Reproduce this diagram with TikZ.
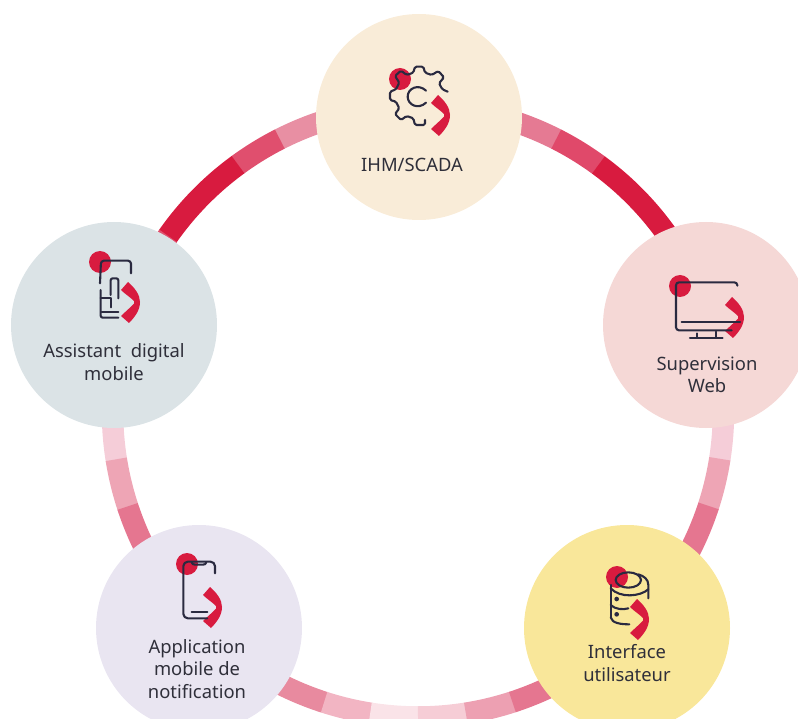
\documentclass[tikz,border=0pt]{standalone}
\usepackage{fontspec}
\setmainfont{Noto Sans}
\definecolor{redm}{HTML}{D81B3F}
\definecolor{inkc}{HTML}{2A2A40}
\definecolor{txtc}{HTML}{2F2F3A}
\definecolor{cTop}{HTML}{F9ECD8}
\definecolor{cRight}{HTML}{F5D8D6}
\definecolor{cYellow}{HTML}{F9E79A}
\definecolor{cLilac}{HTML}{E9E5F1}
\definecolor{cLeft}{HTML}{DBE3E6}
\tikzset{
  disc/.style={circle,minimum size=206pt,inner sep=0pt,draw=none},
  lab/.style={text=txtc,align=center,font=\fontsize{18.4}{22.5}\selectfont,inner sep=0pt},
  ink/.style={draw=inkc,line width=2.1pt,line cap=round,line join=round,fill=none},
  zoomed/.style={x=0.33333pt,y=-0.33333pt},
}
\newcommand{\ringseg}[3]{\definecolor{segc}{HTML}{#3}\draw[line width=21.5pt,draw=segc,line cap=butt,line join=round]
  plot[domain=#1:#2,samples=24,smooth] ({418+305.5*cos(\x)},{411.5-305.5*sin(\x)});}
\newcommand{\redmark}[4]{%
  \fill[redm] (#3,#4) circle (11pt);
  \begin{scope}[shift={(#1,#2)}]
    \fill[redm] (-18,-12) -- (-11,-20) .. controls (-4,-14) and (1,-7) .. (1,0)
      .. controls (1,8) and (-4,15) .. (-10,21) -- (-18,14)
      .. controls (-14,10) and (-9,6) .. (-5,1.5) -- (-5,-1)
      .. controls (-9,-5) and (-14,-8) .. cycle;
  \end{scope}}
\begin{document}
\begin{tikzpicture}[x=1pt,y=-1pt]
\useasboundingbox (0,0) rectangle (798,719);
\clip (0,0) rectangle (798,719);
% ring
\ringseg{63}{95}{E57A93}
\ringseg{53.7}{63.1}{E0496A}
\ringseg{30}{53.8}{D81B3F}
\ringseg{117}{85}{E88FA3}
\ringseg{126.2}{116.9}{E04F6E}
\ringseg{145}{126.1}{D81B3F}
\ringseg{150}{144.9}{E0506E}
\ringseg{-9}{15}{F5CDD8}
\ringseg{-18.1}{-8.9}{EEA5B5}
\ringseg{-35}{-18}{E57690}
\ringseg{165}{189.1}{F5CDD8}
\ringseg{189}{198.2}{EEA5B5}
\ringseg{198.1}{215}{E57690}
\ringseg{235}{252.2}{E88A9F}
\ringseg{252.1}{261.1}{F2B5C3}
\ringseg{261}{270.1}{FAE3E8}
\ringseg{270}{279.1}{F6CDD6}
\ringseg{279}{288.1}{EDA0B2}
\ringseg{288}{305}{E57690}
% discs
\node[disc,fill=cTop]    (top)    at (419,117) {};
\node[disc,fill=cRight]  (right)  at (706,325) {};
\node[disc,fill=cYellow] (yellow) at (627,628) {};
\node[disc,fill=cLilac]  (lilac)  at (199,628) {};
\node[disc,fill=cLeft]   (left)   at (114,325) {};
% red marks
\redmark{449}{115}{400}{79}
\redmark{743}{317}{680}{286}
\redmark{648}{619}{617}{577}
\redmark{221}{607}{187}{564}
\redmark{139}{302}{100}{262}
% gear
\begin{scope}[shift={(310,0)},zoomed]
  \draw[ink,rounded corners=1.5pt] (413,275) -- (397,268) -- (387,250) -- (402,232) -- (385,213) -- (365,225) -- (345,218) -- (340,200) -- (315,200) -- (310,218) -- (290,225) -- (273,212) -- (255,228) -- (268,248) -- (258,268) -- (240,275) -- (240,300) -- (258,305) -- (268,325) -- (255,342) -- (273,360) -- (290,348) -- (310,355) -- (315,375) -- (345,375) -- (345,360);
  \draw[ink] (348,272) .. controls (325,250) and (293,265) .. (293,290) .. controls (293,315) and (325,330) .. (348,308);
\end{scope}
% monitor
\begin{scope}[shift={(600,220)},zoomed]
  \draw[ink,rounded corners=3pt] (412,197) -- (412,187) -- (228,187) -- (228,331) -- (395,331);
  \draw[ink] (245,305) -- (420,305);
  \draw[ink] (290,340) -- (290,353);
  \draw[ink] (347,335) -- (347,353);
  \draw[ink] (270,353) -- (368,353);
\end{scope}
% database
\begin{scope}[shift={(540,530)},zoomed]
  \draw[ink] (265,150) ellipse [x radius=38,y radius=23];
  \draw[ink] (295,133) .. controls (312,138) and (325,148) .. (325,165) -- (325,205);
  \draw[ink] (212,165) -- (212,262);
  \draw[ink] (212,175) .. controls (240,205) and (300,200) .. (325,178);
  \draw[ink] (212,225) .. controls (225,238) and (250,240) .. (265,235);
  \draw[ink] (212,262) .. controls (215,280) and (245,283) .. (268,283);
  \fill[inkc] (230,207) circle (7);
  \fill[inkc] (230,253) circle (7);
\end{scope}
% phone
\begin{scope}[shift={(120,530)},zoomed]
  \draw[ink,rounded corners=4.5pt] (285,130) -- (285,95) -- (190,95) -- (190,265) -- (262,265);
  \draw[ink] (215,97) .. controls (217,103) and (220,104) .. (226,104) -- (248,104) .. controls (254,104) and (257,103) .. (259,97);
  \draw[ink] (215,247) -- (262,247);
\end{scope}
% assistant
\begin{scope}[shift={(20,230)},zoomed]
  \draw[ink,rounded corners=3pt] (240,160) -- (243,92) -- (333,92) -- (333,130);
  \draw[ink,rounded corners=2pt] (272,195) -- (272,145) -- (295,145) -- (295,205);
  \draw[ink,rounded corners=2pt] (242,180) -- (242,263) -- (295,263);
  \draw[ink] (242,205) -- (272,205) -- (272,232);
  \draw[ink] (245,245) -- (295,245);
\end{scope}
% labels
\node[lab] (l1) at (412,165) {IHM/SCADA};
\node[lab] (l2) at (707,375) {Supervision\\Web};
\node[lab] (l3) at (627,663) {Interface\\utilisateur};
\node[lab] (l4) at (197,669) {Application\\mobile de\\notification};
\node[lab] (l5) at (114,362) {Assistant\ \ digital\\mobile};
\end{tikzpicture}
\end{document}
